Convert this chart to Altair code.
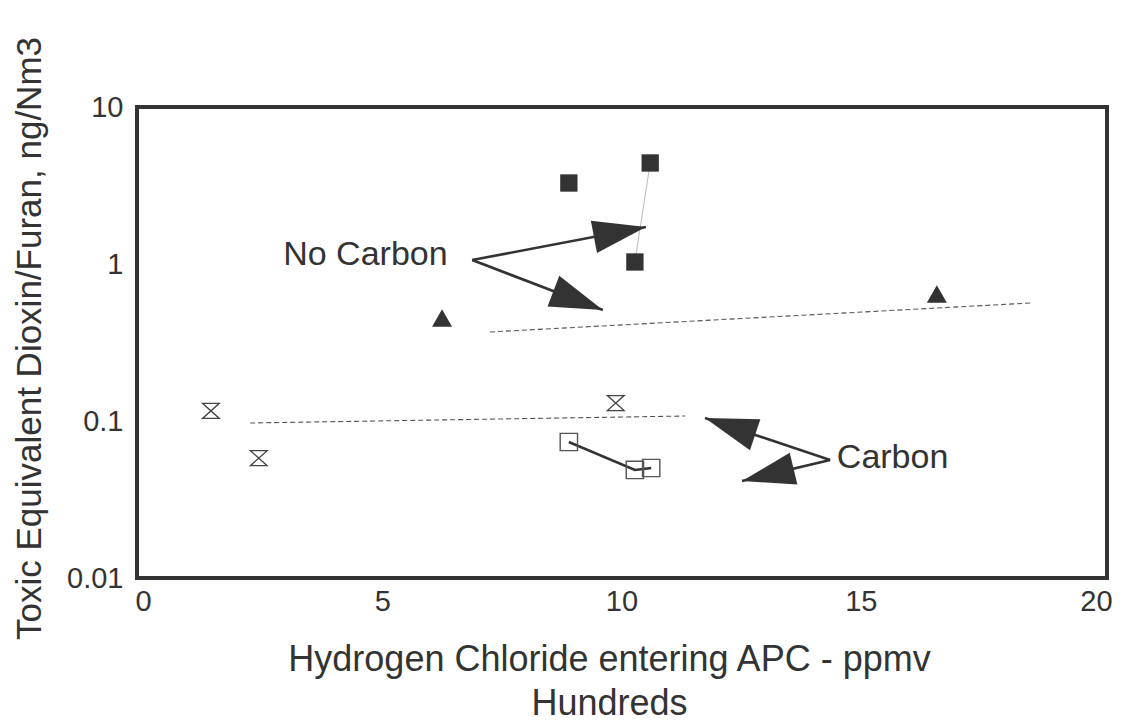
import math
import altair as alt
import pandas as pd

# ---------------- data ----------------
nc_sq_x = [8.90, 10.60, 10.28]          # No carbon, filled squares
nc_sq_y = [3.28, 4.40, 1.03]
nc_tri_x = [6.25, 16.59]                # No carbon, filled triangles
nc_tri_y = [0.453, 0.644]
c_hg_x = [1.42, 2.42, 9.88]             # Carbon, hourglass markers
c_hg_y = [0.116, 0.058, 0.130]
c_sq_x = [8.90, 10.28, 10.62]           # Carbon, open squares
c_sq_y = [0.0735, 0.0488, 0.0502]
nc_trend_x = [7.25, 18.58]              # dashed trend, no carbon
nc_trend_y = [0.369, 0.565]
c_trend_x = [2.24, 11.33]               # dashed trend, carbon
c_trend_y = [0.0971, 0.1076]

labels = ["No Carbon", "Carbon"]
label_x = [2.93, 14.50]
label_y = [1.14, 0.0581]

arrow_x0 = [6.88, 6.88, 14.36, 14.36]
arrow_y0 = [1.06, 1.06, 0.0565, 0.0565]
arrow_x1 = [10.51, 9.61, 11.745, 12.52]
arrow_y1 = [1.72, 0.509, 0.1045, 0.0415]

x_ticks = [0, 5, 10, 15, 20]
y_ticks = [0.01, 0.1, 1, 10]

# ---------------- layout ----------------
W, H = 970, 471
X_DOMAIN = [-0.125, 20.146]
Y_DOMAIN = [0.01, 10]
FONT = "Liberation Sans"
INK = "#333333"

px_per_x = W / (X_DOMAIN[1] - X_DOMAIN[0])
px_per_dec = H / (math.log10(Y_DOMAIN[1]) - math.log10(Y_DOMAIN[0]))


def head_angle(x0, y0, x1, y1):
    dx = (x1 - x0) * px_per_x
    dy = -(math.log10(y1) - math.log10(y0)) * px_per_dec
    return math.degrees(math.atan2(dx, -dy)) % 360


xs = alt.Scale(domain=X_DOMAIN, nice=False, zero=False)
ys = alt.Scale(type="log", domain=Y_DOMAIN, nice=False)

last_tick = "datum.value >= %s" % x_ticks[-1]

x_axis = alt.Axis(
    values=x_ticks, grid=False, ticks=False, domain=False,
    labelFontSize=29, labelFont=FONT, labelColor=INK, labelPadding=9,
    labelFlush=False,
    labelAlign={"condition": {"test": last_tick, "value": "right"}, "value": "center"},
    labelOffset={"condition": {"test": last_tick, "value": 12}, "value": 0},
    title=["Hydrogen Chloride entering APC - ppmv", "Hundreds"],
    titleFont=FONT, titleFontSize=36, titleFontWeight="normal", titleColor=INK,
    titleX=472, titleY=64, titleAlign="center", titleBaseline="top",
    titleLineHeight=44,
)
y_axis = alt.Axis(
    values=y_ticks, format="~g", grid=False, ticks=False, domain=False,
    labelFontSize=29, labelFont=FONT, labelColor=INK, labelPadding=14,
    labelFlush=False,
    title="Toxic Equivalent Dioxin/Furan, ng/Nm3",
    titleFont=FONT, titleFontSize=35, titleFontWeight="normal", titleColor=INK,
    titleX=-108, titleY=231, titleAlign="center", titleBaseline="middle",
    titleAngle=270,
)


def X(f="x"):
    return alt.X(f"{f}:Q", scale=xs, axis=x_axis)


def Y(f="y"):
    return alt.Y(f"{f}:Q", scale=ys, axis=y_axis)


df_nc_sq = pd.DataFrame({"x": nc_sq_x, "y": nc_sq_y})
df_nc_tri = pd.DataFrame({"x": nc_tri_x, "y": nc_tri_y})
df_c_hg = pd.DataFrame({"x": c_hg_x, "y": c_hg_y})
df_c_sq = pd.DataFrame({"x": c_sq_x, "y": c_sq_y, "o": range(len(c_sq_x))})
df_nc_tr = pd.DataFrame({"x": nc_trend_x, "y": nc_trend_y})
df_c_tr = pd.DataFrame({"x": c_trend_x, "y": c_trend_y})
df_gray = pd.DataFrame({"x": nc_sq_x[1:], "y": nc_sq_y[1:], "o": [0, 1]})
df_lab = pd.DataFrame({"x": label_x, "y": label_y, "t": labels})
df_arr = pd.DataFrame({
    "x0": arrow_x0, "y0": arrow_y0, "x1": arrow_x1, "y1": arrow_y1,
    "angle": [head_angle(a, b, c, d) for a, b, c, d in
              zip(arrow_x0, arrow_y0, arrow_x1, arrow_y1)],
})

dash = dict(color="#555555", strokeWidth=1.1, strokeDash=[5, 3])
trend_nc = alt.Chart(df_nc_tr).mark_line(**dash).encode(x=X(), y=Y())
trend_c = alt.Chart(df_c_tr).mark_line(**dash).encode(x=X(), y=Y())

gray_line = alt.Chart(df_gray).mark_line(color="#bbbbbb", strokeWidth=1).encode(
    x=X(), y=Y(), order="o:Q")
c_line = alt.Chart(df_c_sq).mark_line(color=INK, strokeWidth=2.5).encode(
    x=X(), y=Y(), order="o:Q")

filled_sq = alt.Chart(df_nc_sq).mark_point(
    shape="square", filled=True, size=300, color=INK, opacity=1, strokeWidth=0
).encode(x=X(), y=Y())
triangles = alt.Chart(df_nc_tri).mark_point(
    shape="triangle-up", filled=True, size=400, color=INK, opacity=1, strokeWidth=0
).encode(x=X(), y=Y())
hourglass = alt.Chart(df_c_hg).mark_point(
    shape="M-1,-0.9L1,-0.9L-1,0.9L1,0.9Z", filled=False, size=280,
    color="#444444", strokeWidth=1.3, opacity=1
).encode(x=X(), y=Y())
open_sq = alt.Chart(df_c_sq).mark_point(
    shape="square", filled=False, size=300, color="#555555",
    strokeWidth=1.4, opacity=1
).encode(x=X(), y=Y())

shafts = alt.Chart(df_arr).mark_rule(color=INK, strokeWidth=2.6).encode(
    x=X("x0"), x2="x1:Q", y=Y("y0"), y2="y1:Q")
heads = alt.Chart(df_arr).mark_point(
    shape="M0,0L-0.62,2L0.62,2Z", filled=True, size=2800, color=INK,
    opacity=1, strokeWidth=0
).encode(x=X("x1"), y=Y("y1"), angle=alt.Angle("angle:Q", scale=None))

texts = alt.Chart(df_lab).mark_text(
    align="left", baseline="middle", fontSize=34, font=FONT, color=INK
).encode(x=X(), y=Y(), text="t:N")

chart = alt.layer(
    trend_nc, trend_c, gray_line, c_line, filled_sq, triangles, hourglass,
    open_sq, shafts, heads, texts
).properties(
    width=W, height=H,
    autosize=alt.AutoSizeParams(type="none"),
    padding={"left": 129, "top": 99, "right": 7, "bottom": 146},
    background="white",
).configure(
    font=FONT,
    view=alt.ViewConfig(stroke=INK, strokeWidth=4),
)

chart.save("out.html", embed_options={"renderer": "svg", "actions": False})
